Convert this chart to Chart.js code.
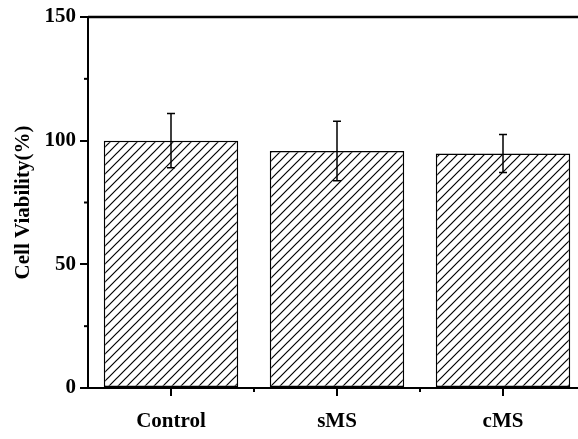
<!DOCTYPE html>
<html><head><meta charset="utf-8">
<script src="https://cdn.jsdelivr.net/npm/chart.js@4"></script>
<style>
html,body{margin:0;padding:0;background:#fff;overflow:hidden;}
#wrap{position:absolute;left:0;top:0;width:600px;height:439px;}
</style></head>
<body>
<div id="wrap"><canvas id="c"></canvas></div>
<script>
const categories = ['Control', 'sMS', 'cMS'];
const viability = [100, 95.8, 94.8];
const errors = [11, 12, 7.7];
const yTicks = [0, 50, 100, 150];
const yMinorTicks = [25, 75, 125];

const FONT = {family: '"Liberation Serif", "Times New Roman", serif', size: 21, weight: 'bold'};

function hatch() {
  const s = 9;
  const c = document.createElement('canvas');
  c.width = s; c.height = s;
  const g = c.getContext('2d');
  g.fillStyle = '#fff'; g.fillRect(0, 0, s, s);
  g.strokeStyle = '#000'; g.lineWidth = 1.2;
  g.beginPath();
  g.moveTo(-1, s + 1); g.lineTo(s + 1, -1);
  g.moveTo(-1, 1); g.lineTo(1, -1);
  g.moveTo(s - 1, s + 1); g.lineTo(s + 1, s - 1);
  g.stroke();
  return g.createPattern(c, 'repeat');
}

const extras = {
  id: 'extras',
  afterDatasetsDraw(chart) {
    const ctx = chart.ctx, xs = chart.scales.x, ys = chart.scales.y, a = chart.chartArea;
    ctx.save();
    ctx.strokeStyle = '#000';
    // error bars
    ctx.lineWidth = 1.5;
    viability.forEach((v, i) => {
      const x = xs.getPixelForValue(i);
      const t = ys.getPixelForValue(v + errors[i]);
      const b = ys.getPixelForValue(v - errors[i]);
      ctx.beginPath();
      ctx.moveTo(x, t); ctx.lineTo(x, b);
      ctx.moveTo(x - 4, t); ctx.lineTo(x + 4, t);
      ctx.moveTo(x - 4, b); ctx.lineTo(x + 4, b);
      ctx.stroke();
    });
    // top & right frame
    ctx.lineWidth = 2.5;
    ctx.beginPath();
    ctx.moveTo(a.left, a.top); ctx.lineTo(a.right, a.top); ctx.lineTo(a.right, a.bottom);
    ctx.stroke();
    ctx.lineWidth = 2;
    // minor y ticks
    yMinorTicks.forEach(v => {
      const y = ys.getPixelForValue(v);
      ctx.beginPath(); ctx.moveTo(a.left - 4, y); ctx.lineTo(a.left, y); ctx.stroke();
    });
    // minor x ticks at category boundaries
    for (let i = 0; i < categories.length - 1; i++) {
      const x = (xs.getPixelForValue(i) + xs.getPixelForValue(i + 1)) / 2;
      ctx.beginPath(); ctx.moveTo(x, a.bottom); ctx.lineTo(x, a.bottom + 4); ctx.stroke();
    }
    ctx.restore();
  }
};

new Chart(document.getElementById('c'), {
  type: 'bar',
  data: {
    labels: categories,
    datasets: [{
      data: viability,
      backgroundColor: hatch(),
      borderColor: '#000',
      borderWidth: 1.5,
      borderSkipped: false,
      barPercentage: 0.81,
      categoryPercentage: 1
    }]
  },
  options: {
    responsive: true,
    maintainAspectRatio: false,
    animation: false,
    devicePixelRatio: 1,
    layout: {padding: {top: 17, right: 14, left: 0, bottom: 0}},
    plugins: {legend: {display: false}, tooltip: {enabled: false}},
    scales: {
      x: {
        offset: true,
        grid: {display: true, drawOnChartArea: false, offset: false, color: '#000', lineWidth: 2, tickLength: 8},
        border: {display: true, color: '#000', width: 2},
        ticks: {color: '#000', font: FONT, padding: 13, maxRotation: 0},
        afterFit(s) { s.height = 51; }
      },
      y: {
        min: 0, max: 150,
        afterBuildTicks(s) { s.ticks = yTicks.map(v => ({value: v})); },
        grid: {display: true, drawOnChartArea: false, color: '#000', lineWidth: 2, tickLength: 8},
        border: {display: true, color: '#000', width: 2},
        ticks: {color: '#000', font: FONT, padding: 4},
        title: {display: true, text: 'Cell Viability(%)', color: '#000', font: FONT, padding: {top: 11, bottom: 0}},
        afterFit(s) { s.width = 88; }
      }
    }
  },
  plugins: [extras]
});
</script>
</body></html>
